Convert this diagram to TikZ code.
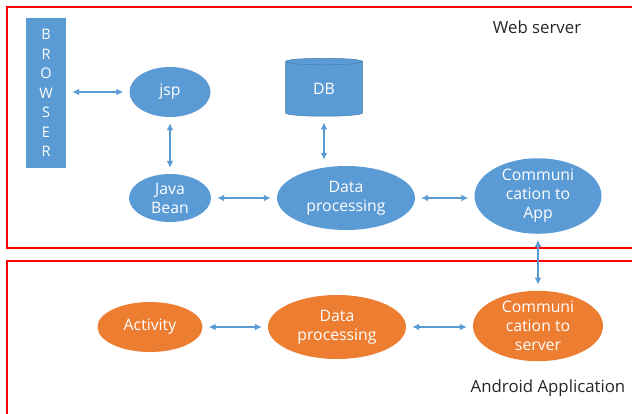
\documentclass[tikz,border=0pt]{standalone}
\usepackage{fontspec}
\setmainfont{Open Sans}
\usetikzlibrary{shapes.geometric,arrows.meta}
\definecolor{webblue}{HTML}{5B9BD5}
\definecolor{apporange}{HTML}{ED7D31}
\definecolor{framered}{HTML}{FF0000}
\tikzset{
  blob/.style={ellipse, fill=webblue, text=white, align=center, inner sep=0pt,
    font=\fontsize{15.8}{19}\selectfont},
  appblob/.style={blob, fill=apporange},
  link/.style={draw=webblue, line width=2pt, {Latex[length=7pt,width=7pt]}-{Latex[length=7pt,width=7pt]},
    shorten <=6pt, shorten >=6pt},
  frame/.style={draw=framered, line width=2.2pt},
  caption/.style={font=\fontsize{16.8}{20}\selectfont, text=black!85}
}
\begin{document}
\begin{tikzpicture}[x=1pt, y=-1pt]
  \useasboundingbox (0,0) rectangle (632,413);
  \clip (0,0) rectangle (632,413);
  % frames
  \draw[frame] (7,7) rectangle (645,248);
  \draw[frame] (7,261) rectangle (645,425);
  \node[caption] (webtitle) at (537,27) {Web server};
  \node[caption] (apptitle) at (548,388) {Android Application};
  % web server side
  \node[fill=webblue, text=white, minimum width=40pt, minimum height=150pt, align=center,
    font=\fontsize{14.5}{19.5}\selectfont] (browser) at (46,93) {B\\R\\O\\W\\S\\E\\R};
  \node[blob, minimum width=81pt, minimum height=50pt] (jsp) at (170,92) {jsp};
  \node[cylinder, shape border rotate=90, aspect=0.3, fill=webblue, draw=webblue!80!black,
    line width=0.5pt, text=white, minimum width=77pt, minimum height=58pt, inner sep=0pt,
    font=\fontsize{15.8}{19}\selectfont] (db) at (324,89) {DB};
  \node[blob, minimum width=82pt, minimum height=48pt] (bean) at (170,198) {Java\\Bean};
  \node[blob, minimum width=138pt, minimum height=64pt] (webproc) at (346,198) {Data\\processing};
  \node[blob, minimum width=127pt, minimum height=74pt] (webcomm) at (538,196) {Communi\\cation to\\App};
  % android side
  \node[appblob, minimum width=105pt, minimum height=50pt] (activity) at (150,327) {Activity};
  \node[appblob, minimum width=138pt, minimum height=64pt] (appproc) at (337,327) {Data\\processing};
  \node[appblob, minimum width=130pt, minimum height=68pt] (appcomm) at (538,326) {Communi\\cation to\\server};
  % links
  \draw[link] (browser.east |- jsp) -- (jsp.west);
  \draw[link] (jsp) -- (bean);
  \draw[link] (bean) -- (webproc.west |- bean);
  \draw[link] (db.south) -- (db.south |- webproc.north);
  \draw[link] (webproc.east) -- (webcomm.west |- webproc.east);
  \draw[link] (webcomm) -- (appcomm);
  \draw[link] (activity) -- (appproc);
  \draw[link] (appproc.east) -- (appcomm.west |- appproc.east);
\end{tikzpicture}
\end{document}
